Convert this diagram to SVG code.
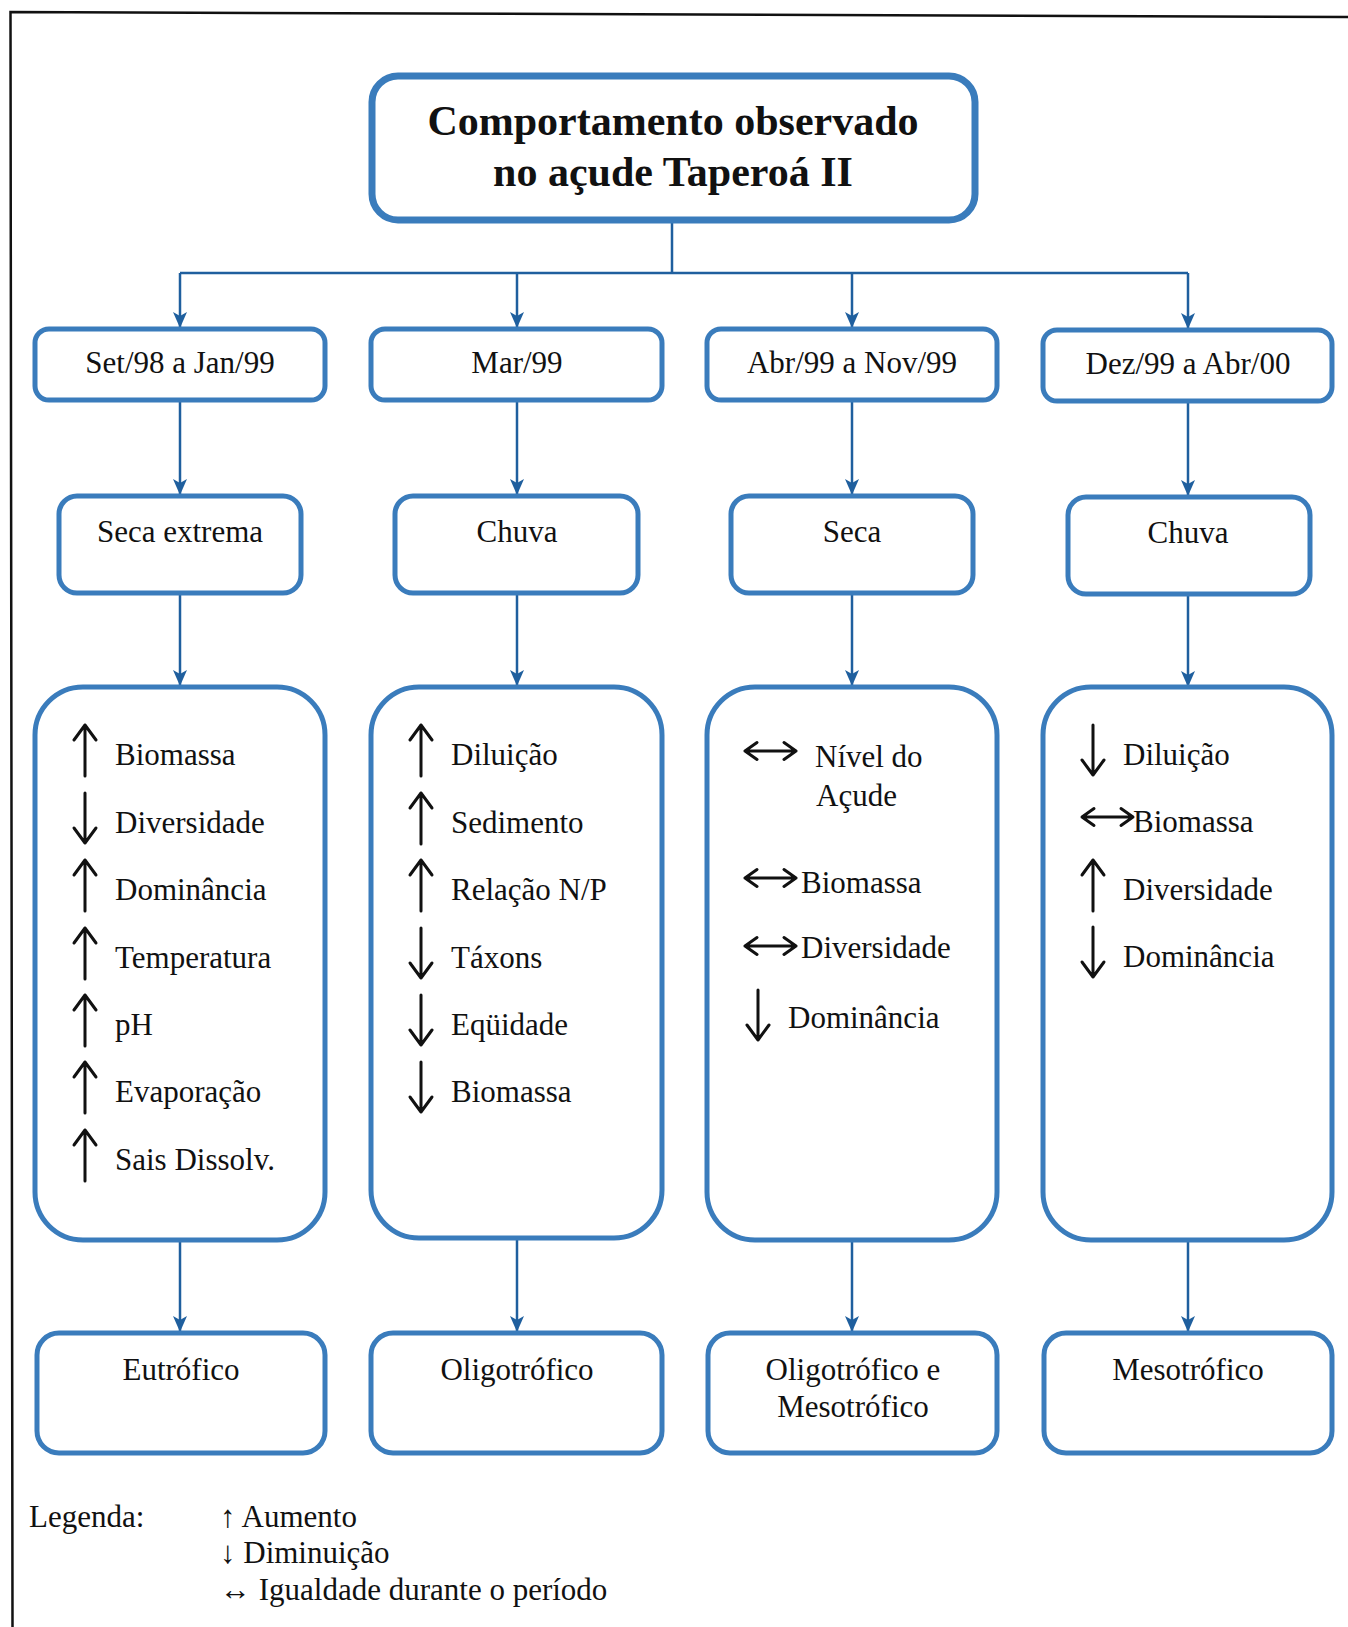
<svg xmlns="http://www.w3.org/2000/svg" xmlns:xlink="http://www.w3.org/1999/xlink" width="1348" height="1627" viewBox="0 0 1348 1627">
  <style>
    .frame { fill: none; stroke: #111; stroke-width: 2.5; }
    .box { fill: #fff; stroke: #3a7cbc; stroke-width: 5; }
    .box-title { fill: #fff; stroke: #3a7cbc; stroke-width: 7; }
    .conn { fill: none; stroke: #1f5f9e; stroke-width: 2.5; }
    .t { font-family: "Liberation Serif", "Times New Roman", serif; font-size: 31px; fill: #111; }
    .c { text-anchor: middle; }
    .title { font-family: "Liberation Serif", "Times New Roman", serif; font-size: 42px; font-weight: bold; fill: #111; text-anchor: middle; }
    .sym { fill: none; stroke: #111; stroke-width: 3; stroke-linecap: round; stroke-linejoin: round; }
  </style>
  <defs>
    <!-- filled arrowhead, drawn pointing along +x so orient="auto" turns it with the line -->
    <marker id="head" viewBox="0 0 16 14" refX="15" refY="7" markerWidth="16" markerHeight="14" markerUnits="userSpaceOnUse" orient="auto">
      <path d="M0,0 L16,7 L0,14 L4,7 Z" fill="#1f5f9e"/>
    </marker>
    <!-- trend symbols used inside the period boxes -->
    <g id="up"><path class="sym" d="M0,0 V51 M-11,15 L0,0 L11,15"/></g>
    <g id="down"><path class="sym" d="M0,0 V50 M-11,35 L0,50 L11,35"/></g>
    <g id="both"><path class="sym" d="M0,0 H51 M12,-8.5 L0,0 L12,8.5 M39,-8.5 L51,0 L39,8.5"/></g>
  </defs>

  <rect width="1348" height="1627" fill="#fff"/>
  <path class="frame" d="M12.5,1627 L10.5,12 L1348,17"/>

  <!-- connectors -->
  <g id="connectors">
    <path class="conn" d="M672,220 V273 M180,273 H1188"/>
    <path class="conn" d="M180,273 V327" marker-end="url(#head)"/>
    <path class="conn" d="M517,273 V327" marker-end="url(#head)"/>
    <path class="conn" d="M852,273 V327" marker-end="url(#head)"/>
    <path class="conn" d="M1188,273 V328" marker-end="url(#head)"/>
    <path class="conn" d="M180,400 V494" marker-end="url(#head)"/>
    <path class="conn" d="M517,400 V494" marker-end="url(#head)"/>
    <path class="conn" d="M852,400 V494" marker-end="url(#head)"/>
    <path class="conn" d="M1188,401 V495" marker-end="url(#head)"/>
    <path class="conn" d="M180,593 V685" marker-end="url(#head)"/>
    <path class="conn" d="M517,593 V685" marker-end="url(#head)"/>
    <path class="conn" d="M852,593 V685" marker-end="url(#head)"/>
    <path class="conn" d="M1188,594 V686" marker-end="url(#head)"/>
    <path class="conn" d="M180,1240 V1331" marker-end="url(#head)"/>
    <path class="conn" d="M517,1238 V1331" marker-end="url(#head)"/>
    <path class="conn" d="M852,1240 V1331" marker-end="url(#head)"/>
    <path class="conn" d="M1188,1240 V1331" marker-end="url(#head)"/>
  </g>

  <!-- root -->
  <g id="title">
    <rect class="box-title" x="372" y="76" width="603" height="144" rx="26"/>
    <text class="title" x="673" y="135">Comportamento observado</text>
    <text class="title" x="673" y="186">no açude Taperoá II</text>
  </g>

  <!-- periods -->
  <g id="period1">
    <rect class="box" x="35" y="329" width="290" height="71" rx="14"/>
    <text class="t c" x="180" y="373">Set/98 a Jan/99</text>
  </g>
  <g id="period2">
    <rect class="box" x="371" y="329" width="291" height="71" rx="14"/>
    <text class="t c" x="517" y="373">Mar/99</text>
  </g>
  <g id="period3">
    <rect class="box" x="707" y="329" width="290" height="71" rx="14"/>
    <text class="t c" x="852" y="373">Abr/99 a Nov/99</text>
  </g>
  <g id="period4">
    <rect class="box" x="1043" y="330" width="289" height="71" rx="14"/>
    <text class="t c" x="1188" y="374">Dez/99 a Abr/00</text>
  </g>

  <!-- climate -->
  <g id="climate1">
    <rect class="box" x="59" y="496" width="242" height="97" rx="18"/>
    <text class="t c" x="180" y="542">Seca extrema</text>
  </g>
  <g id="climate2">
    <rect class="box" x="395" y="496" width="243" height="97" rx="18"/>
    <text class="t c" x="517" y="542">Chuva</text>
  </g>
  <g id="climate3">
    <rect class="box" x="731" y="496" width="242" height="97" rx="18"/>
    <text class="t c" x="852" y="542">Seca</text>
  </g>
  <g id="climate4">
    <rect class="box" x="1068" y="497" width="242" height="97" rx="18"/>
    <text class="t c" x="1188" y="543">Chuva</text>
  </g>

  <!-- observed changes -->
  <g id="changes1">
    <rect class="box" x="35" y="687" width="290" height="553" rx="48"/>
    <use xlink:href="#up" x="85" y="725"/>
    <text class="t" x="115" y="765">Biomassa</text>
    <use xlink:href="#down" x="85" y="793"/>
    <text class="t" x="115" y="833">Diversidade</text>
    <use xlink:href="#up" x="85" y="860"/>
    <text class="t" x="115" y="900">Dominância</text>
    <use xlink:href="#up" x="85" y="928"/>
    <text class="t" x="115" y="968">Temperatura</text>
    <use xlink:href="#up" x="85" y="995"/>
    <text class="t" x="115" y="1035">pH</text>
    <use xlink:href="#up" x="85" y="1062"/>
    <text class="t" x="115" y="1102">Evaporação</text>
    <use xlink:href="#up" x="85" y="1130"/>
    <text class="t" x="115" y="1170">Sais Dissolv.</text>
  </g>
  <g id="changes2">
    <rect class="box" x="371" y="687" width="291" height="551" rx="48"/>
    <use xlink:href="#up" x="421" y="725"/>
    <text class="t" x="451" y="765">Diluição</text>
    <use xlink:href="#up" x="421" y="793"/>
    <text class="t" x="451" y="833">Sedimento</text>
    <use xlink:href="#up" x="421" y="860"/>
    <text class="t" x="451" y="900">Relação N/P</text>
    <use xlink:href="#down" x="421" y="928"/>
    <text class="t" x="451" y="968">Táxons</text>
    <use xlink:href="#down" x="421" y="995"/>
    <text class="t" x="451" y="1035">Eqüidade</text>
    <use xlink:href="#down" x="421" y="1062"/>
    <text class="t" x="451" y="1102">Biomassa</text>
  </g>
  <g id="changes3">
    <rect class="box" x="707" y="687" width="290" height="553" rx="48"/>
    <use xlink:href="#both" x="745" y="751"/>
    <text class="t" x="815" y="767">Nível do</text>
    <text class="t" x="816" y="806">Açude</text>
    <use xlink:href="#both" x="745" y="878"/>
    <text class="t" x="801" y="893">Biomassa</text>
    <use xlink:href="#both" x="745" y="946"/>
    <text class="t" x="801" y="958">Diversidade</text>
    <use xlink:href="#down" x="758" y="990"/>
    <text class="t" x="788" y="1028">Dominância</text>
  </g>
  <g id="changes4">
    <rect class="box" x="1043" y="687" width="289" height="553" rx="48"/>
    <use xlink:href="#down" x="1093" y="725"/>
    <text class="t" x="1123" y="765">Diluição</text>
    <use xlink:href="#both" x="1082" y="817"/>
    <text class="t" x="1133" y="832">Biomassa</text>
    <use xlink:href="#up" x="1093" y="860"/>
    <text class="t" x="1123" y="900">Diversidade</text>
    <use xlink:href="#down" x="1093" y="927"/>
    <text class="t" x="1123" y="967">Dominância</text>
  </g>

  <!-- trophic state -->
  <g id="state1">
    <rect class="box" x="37" y="1333" width="288" height="120" rx="22"/>
    <text class="t c" x="181" y="1380">Eutrófico</text>
  </g>
  <g id="state2">
    <rect class="box" x="371" y="1333" width="291" height="120" rx="22"/>
    <text class="t c" x="517" y="1380">Oligotrófico</text>
  </g>
  <g id="state3">
    <rect class="box" x="708" y="1333" width="289" height="120" rx="22"/>
    <text class="t c" x="853" y="1380">Oligotrófico e</text>
    <text class="t c" x="853" y="1417">Mesotrófico</text>
  </g>
  <g id="state4">
    <rect class="box" x="1044" y="1333" width="288" height="120" rx="22"/>
    <text class="t c" x="1188" y="1380">Mesotrófico</text>
  </g>

  <!-- legend -->
  <g id="legend">
    <text class="t" x="29" y="1527">Legenda:</text>
    <text class="t" x="220" y="1527">↑ Aumento</text>
    <text class="t" x="220" y="1563">↓ Diminuição</text>
    <text class="t" x="220" y="1600">↔ Igualdade durante o período</text>
  </g>
</svg>
